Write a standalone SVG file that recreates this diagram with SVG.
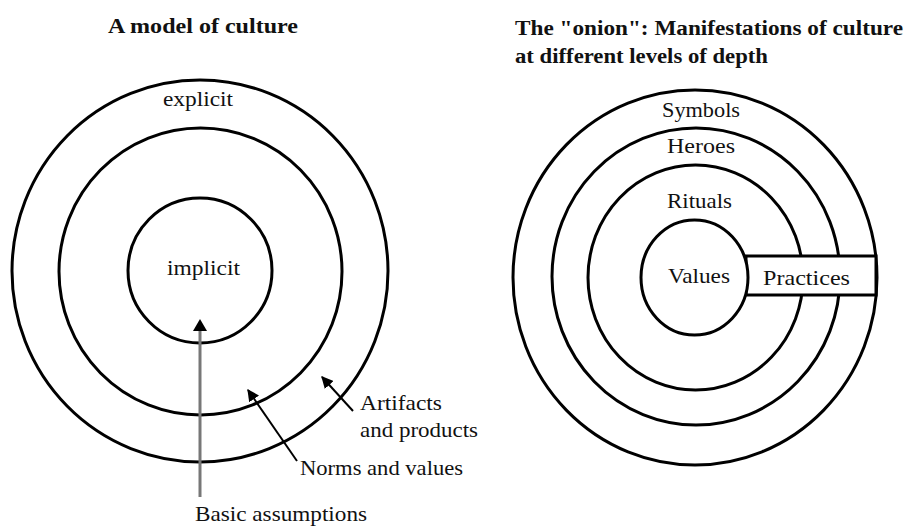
<svg xmlns="http://www.w3.org/2000/svg" width="905" height="529" viewBox="0 0 905 529">
<style>
  .ring { fill: none; stroke: #000; stroke-width: 3; }
  .lbl { font-family: "Liberation Serif", "Times New Roman", serif; font-size: 21px; fill: #111; }
  .ttl { font-family: "Liberation Serif", "Times New Roman", serif; font-size: 20px; font-weight: bold; fill: #111; }
  .lead { stroke: #000; stroke-width: 2; fill: none; }
</style>
<defs>
  <marker id="ah" viewBox="0 0 10 10" refX="9" refY="5" markerWidth="12" markerHeight="12" markerUnits="userSpaceOnUse" orient="auto">
    <path d="M0,0 L10,5 L0,10 Z" fill="#000"/>
  </marker>
</defs>
<rect width="905" height="529" fill="#fff"/>

<g id="title-left">
  <text class="ttl" x="108" y="33" textLength="190" lengthAdjust="spacingAndGlyphs">A model of culture</text>
</g>
<g id="title-right">
  <text class="ttl" x="515" y="35" textLength="388" lengthAdjust="spacingAndGlyphs">The "onion": Manifestations of culture</text>
  <text class="ttl" x="515" y="63" textLength="253" lengthAdjust="spacingAndGlyphs">at different levels of depth</text>
</g>

<g id="left-model">
  <g id="explicit-outer">
    <ellipse class="ring" cx="200" cy="271" rx="188" ry="191"/>
    <text class="lbl" x="163" y="106" textLength="70" lengthAdjust="spacingAndGlyphs">explicit</text>
  </g>
  <g id="norms-middle">
    <ellipse class="ring" cx="200.5" cy="271.5" rx="141.5" ry="143.5"/>
  </g>
  <g id="implicit-inner">
    <ellipse class="ring" cx="200" cy="270.5" rx="72" ry="72.5"/>
    <text class="lbl" x="167" y="275" textLength="73" lengthAdjust="spacingAndGlyphs">implicit</text>
  </g>
  <g id="label-artifacts">
    <text class="lbl" x="360" y="410" textLength="82" lengthAdjust="spacingAndGlyphs">Artifacts</text>
    <text class="lbl" x="360" y="437" textLength="118" lengthAdjust="spacingAndGlyphs">and products</text>
  </g>
  <g id="label-norms">
    <text class="lbl" x="300" y="475" textLength="163" lengthAdjust="spacingAndGlyphs">Norms and values</text>
  </g>
  <g id="label-basic">
    <text class="lbl" x="195" y="521" textLength="172" lengthAdjust="spacingAndGlyphs">Basic assumptions</text>
  </g>
</g>

<g id="connectors">
  <line x1="200" y1="497" x2="200" y2="330" stroke="#777" stroke-width="3"/>
  <path d="M200,319 L207,331 L193,331 Z" fill="#000"/>
  <line class="lead" x1="297" y1="461" x2="248" y2="390" marker-end="url(#ah)"/>
  <line class="lead" x1="353" y1="411" x2="322" y2="377" marker-end="url(#ah)"/>
</g>

<g id="onion">
  <g id="symbols-ring">
    <ellipse class="ring" cx="695" cy="277.5" rx="182" ry="187.5"/>
    <text class="lbl" x="662" y="117" textLength="78" lengthAdjust="spacingAndGlyphs">Symbols</text>
  </g>
  <g id="heroes-ring">
    <ellipse class="ring" cx="696" cy="276.5" rx="144" ry="148.5"/>
    <text class="lbl" x="667" y="153" textLength="68" lengthAdjust="spacingAndGlyphs">Heroes</text>
  </g>
  <g id="rituals-ring">
    <ellipse class="ring" cx="695.5" cy="277.5" rx="107.5" ry="112.5"/>
    <text class="lbl" x="667" y="208" textLength="65" lengthAdjust="spacingAndGlyphs">Rituals</text>
  </g>
  <g id="practices-box">
    <rect x="746" y="256" width="130" height="39" fill="#fff" stroke="#000" stroke-width="3"/>
    <text class="lbl" x="763" y="285" textLength="87" lengthAdjust="spacingAndGlyphs">Practices</text>
  </g>
  <g id="values-core">
    <ellipse cx="694.5" cy="277.5" rx="53.5" ry="57.5" fill="#fff" stroke="#000" stroke-width="3"/>
    <text class="lbl" x="668" y="283" textLength="62" lengthAdjust="spacingAndGlyphs">Values</text>
  </g>
</g>
</svg>
